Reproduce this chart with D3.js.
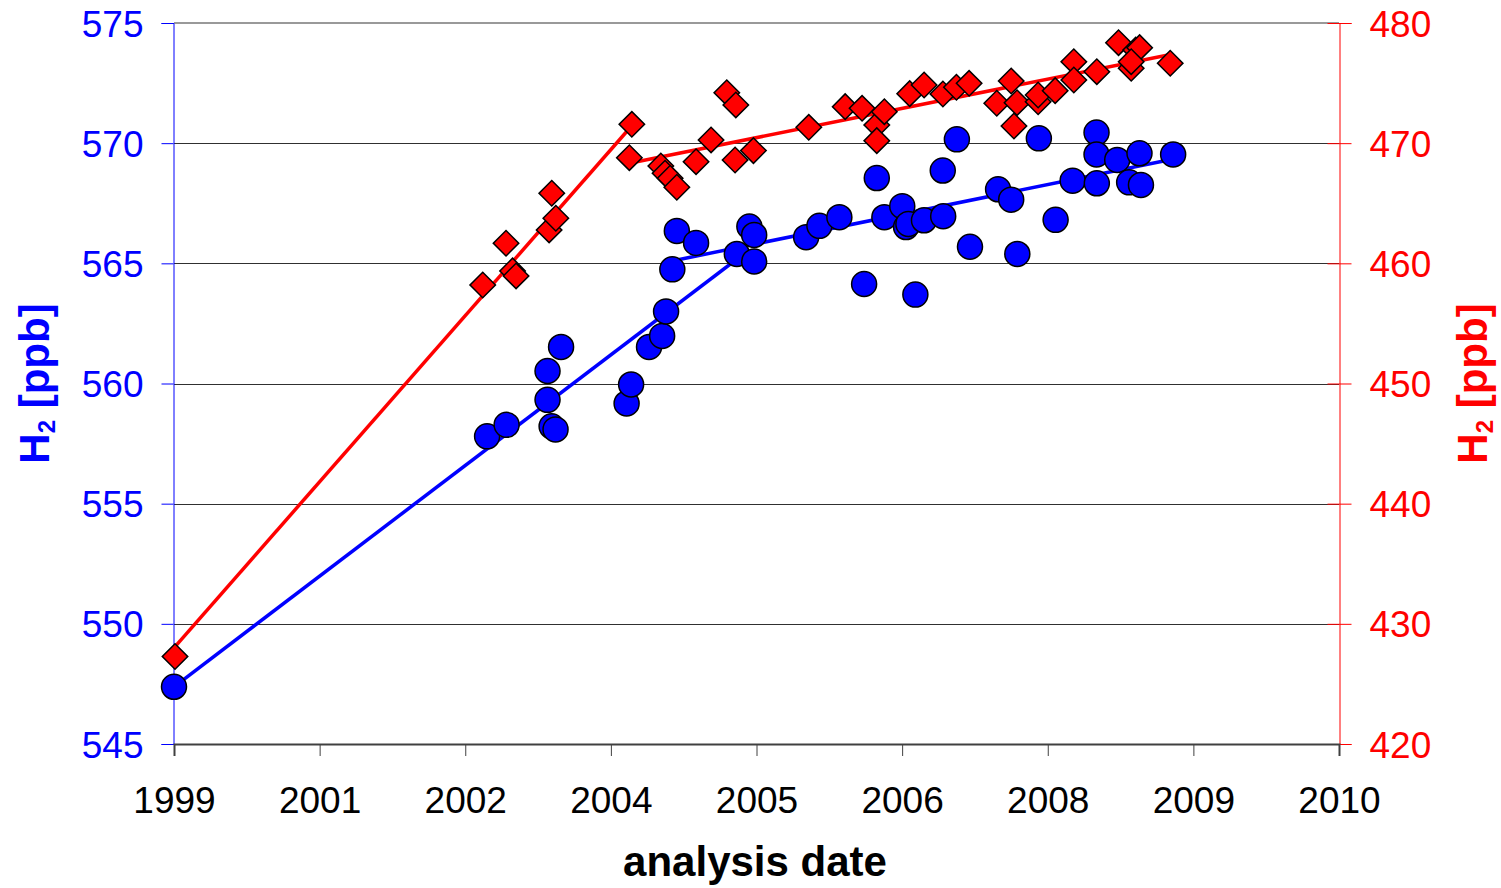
<!DOCTYPE html>
<html>
<head>
<meta charset="utf-8">
<script src="https://cdn.jsdelivr.net/npm/d3@7"></script>
<style>
  body { margin: 0; background: #fff; }
  svg { display: block; font-family: "Liberation Sans", Arial, sans-serif; }
</style>
</head>
<body>
<div id="chart"></div>
<script>
// Data
// ==================================================================
// x positions are in units of the (irregular) date-axis tick spacing
const xTickLabels = ["1999", "2001", "2002", "2004", "2005", "2006", "2008", "2009", "2010"];
const leftTicks = [545, 550, 555, 560, 565, 570, 575];
const rightTicks = [420, 430, 440, 450, 460, 470, 480];

// blue circles, left axis
const blueX = [0.0, 2.15, 2.284, 2.565, 2.565, 2.593, 2.62, 2.658, 3.108, 3.139,
    3.262, 3.352, 3.379, 3.422, 3.453, 3.585, 3.865, 3.951, 3.984, 3.984,
    4.341, 4.432, 4.569, 4.739, 4.826, 4.878, 5.001, 5.027, 5.043, 5.15,
    5.091, 5.279, 5.282, 5.376, 5.466, 5.659, 5.749, 5.791, 5.939, 6.054,
    6.171, 6.335, 6.335, 6.337, 6.477, 6.559, 6.63, 6.64, 6.861];
const blueH2 = [547.38, 557.8, 558.28, 560.52, 559.32, 558.22, 558.09, 561.52, 559.17, 559.96,
    561.52, 561.98, 563.0, 564.75, 566.35, 565.85, 565.39, 566.53, 566.18, 565.08,
    566.09, 566.56, 566.92, 564.14, 568.55, 566.92, 567.38, 566.51, 566.64, 566.79,
    563.7, 568.86, 566.96, 570.16, 565.69, 568.08, 567.65, 565.39, 570.2, 566.81,
    568.44, 570.44, 569.53, 568.33, 569.3, 568.37, 569.58, 568.26, 569.53];

// red diamonds, right axis
const redX = [0.007, 2.12, 2.28, 2.325, 2.349, 2.576, 2.594, 2.622, 3.127, 3.144,
    3.343, 3.372, 3.407, 3.453, 3.585, 3.688, 3.796, 3.858, 3.853, 3.979,
    4.359, 4.609, 4.725, 4.826, 4.826, 4.878, 5.052, 5.151, 5.28, 5.373,
    5.46, 5.65, 5.749, 5.789, 5.768, 5.934, 5.934, 6.051, 6.179, 6.179,
    6.337, 6.486, 6.604, 6.631, 6.573, 6.573, 6.841];
const redH2 = [427.28, 458.2, 461.67, 459.37, 458.95, 462.78, 465.83, 463.75, 468.79, 471.57,
    468.1, 467.5, 467.08, 466.33, 468.46, 470.27, 474.2, 473.18, 468.6, 469.38,
    471.32, 473.04, 472.9, 471.51, 470.21, 472.62, 474.12, 474.84, 474.09, 474.65,
    474.98, 473.32, 475.17, 473.37, 471.43, 473.45, 474.01, 474.37, 476.78, 475.26,
    475.95, 478.36, 477.75, 477.95, 476.23, 476.78, 476.65];

// fitted line segments [x, value]
const blueFitA = [[0, 547.38], [3.92, 565.43]];
const blueFitB = [[3.42, 565.1], [6.83, 569.3]];
const redFitA = [[0, 428.0], [3.13, 471.26]];
const redFitB = [[3.178, 468.46], [6.827, 477.34]];

// Layout
// ==================================================================
const W = 1501, H = 888,
    plot = {left: 174, right: 1339, top: 23, bottom: 744},
    blue = "#0000ff", red = "#ff0000";

const svg = d3.select("#chart").append("svg")
    .attr("width", W)
    .attr("height", H);

// Scales
// ==================================================================
const xScale = d3.scaleLinear().domain([0, 8]).range([plot.left, plot.right]);
const yLeft = d3.scaleLinear().domain([545, 575]).range([plot.bottom, plot.top]);
const yRight = d3.scaleLinear().domain([420, 480]).range([plot.bottom, plot.top]);

// Gridlines
// ==================================================================
svg.append("g")
    .selectAll("line")
    .data(leftTicks.slice(1, -1))
    .enter()
    .append("line")
        .attr("x1", plot.left)
        .attr("x2", plot.right)
        .attr("y1", d => Math.round(yLeft(d)) + 0.5)
        .attr("y2", d => Math.round(yLeft(d)) + 0.5)
        .attr("stroke", "#303030")
        .attr("stroke-width", 1);

// top border
svg.append("line")
    .attr("x1", plot.left).attr("x2", plot.right)
    .attr("y1", plot.top).attr("y2", plot.top)
    .attr("stroke", "#999").attr("stroke-width", 2);

// Axes
// ==================================================================
const leftAxis = svg.append("g")
    .attr("transform", "translate(" + (plot.left - 0.5) + ",0)")
    .call(d3.axisLeft(yLeft).tickValues(leftTicks).tickSize(12).tickPadding(18));
leftAxis.select(".domain").attr("stroke", blue);
leftAxis.selectAll(".tick line").attr("stroke", blue);
leftAxis.selectAll(".tick text")
    .attr("fill", blue)
    .attr("font-size", "37px")
    .attr("font-family", "Liberation Sans, Arial, sans-serif")
    .attr("dy", "13px");

const rightAxis = svg.append("g")
    .attr("transform", "translate(" + (plot.right + 0.5) + ",0)")
    .call(d3.axisRight(yRight).tickValues(rightTicks).tickSize(12).tickPadding(18));
rightAxis.select(".domain").attr("stroke", red);
rightAxis.selectAll(".tick line").attr("stroke", red).attr("x1", -12);
rightAxis.selectAll(".tick text")
    .attr("fill", red)
    .attr("font-size", "37px")
    .attr("font-family", "Liberation Sans, Arial, sans-serif")
    .attr("dy", "13px");

const bottomAxis = svg.append("g")
    .attr("transform", "translate(0," + plot.bottom + ")")
    .call(d3.axisBottom(xScale)
        .tickValues(d3.range(xTickLabels.length))
        .tickFormat(i => xTickLabels[i])
        .tickSize(12)
        .tickPadding(31));
bottomAxis.select(".domain").attr("stroke", "#404040").attr("stroke-width", 2);
bottomAxis.selectAll(".tick line").attr("stroke", "#404040");
bottomAxis.selectAll(".tick text")
    .attr("fill", "#000")
    .attr("font-size", "37px")
    .attr("font-family", "Liberation Sans, Arial, sans-serif");

// Axis titles
// ==================================================================
function h2Title(x, color) {
    const t = svg.append("text")
        .attr("transform", "translate(" + x + "," + ((plot.top + plot.bottom) / 2) + ") rotate(-90)")
        .attr("text-anchor", "middle")
        .attr("font-size", "42px")
        .attr("font-weight", "bold")
        .attr("fill", color);
    t.append("tspan").text("H");
    t.append("tspan").attr("font-size", "24px").attr("dy", "6").text("2");
    t.append("tspan").attr("dy", "-6").text(" [ppb]");
}
h2Title(49, blue);
h2Title(1487, red);

svg.append("text")
    .attr("x", 755)
    .attr("y", 876)
    .attr("text-anchor", "middle")
    .attr("font-size", "42px")
    .attr("font-weight", "bold")
    .attr("fill", "#000")
    .text("analysis date");

// Fit lines
// ==================================================================
const lineL = d3.line().x(d => xScale(d[0])).y(d => yLeft(d[1]));
const lineR = d3.line().x(d => xScale(d[0])).y(d => yRight(d[1]));

[blueFitA, blueFitB].forEach(seg => {
    svg.append("path")
        .attr("d", lineL(seg))
        .attr("fill", "none")
        .attr("stroke", blue)
        .attr("stroke-width", 3.5);
});
[redFitA, redFitB].forEach(seg => {
    svg.append("path")
        .attr("d", lineR(seg))
        .attr("fill", "none")
        .attr("stroke", red)
        .attr("stroke-width", 3.5);
});

// Markers
// ==================================================================
svg.append("g")
    .selectAll("circle")
    .data(blueX)
    .enter()
    .append("circle")
        .attr("cx", d => xScale(d))
        .attr("cy", (d, i) => yLeft(blueH2[i]))
        .attr("r", 12.5)
        .attr("fill", blue)
        .attr("stroke", "#000")
        .attr("stroke-width", 1.5);

const diamond = d3.symbol().type(d3.symbolSquare).size(18 * 18);
svg.append("g")
    .selectAll("path")
    .data(redX)
    .enter()
    .append("path")
        .attr("d", diamond)
        .attr("transform", (d, i) => "translate(" + xScale(d) + "," + yRight(redH2[i]) + ") rotate(45)")
        .attr("fill", red)
        .attr("stroke", "#000")
        .attr("stroke-width", 1.5);
</script>
</body>
</html>
